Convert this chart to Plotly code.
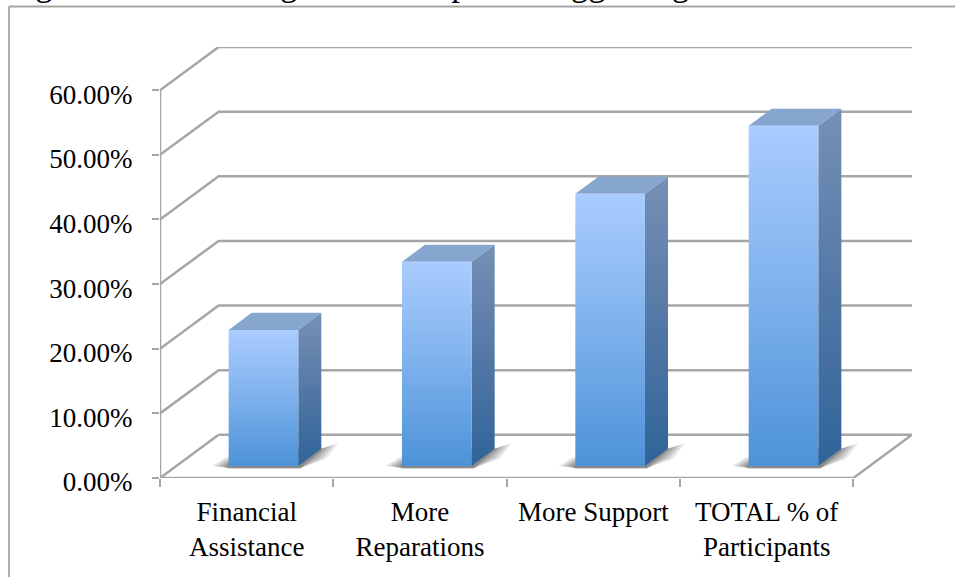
import plotly.graph_objects as go

categories = ["Financial<br>Assistance", "More<br>Reparations", "More Support", "TOTAL % of<br>Participants"]
values = [21.05, 31.58, 42.11, 52.63]
y_ticks = [0, 10, 20, 30, 40, 50, 60]
y_tick_labels = ["0.00%", "10.00%", "20.00%", "30.00%", "40.00%", "50.00%", "60.00%"]
title_text = "Figure 10: Percentage of Participants Suggesting"

GRID = "#A6A6A6"
FONT = "Liberation Serif"
W, H = 955, 577
L, R, T, B = 160, 43, 47, 99
PX = 173.0                # pixels per category
PY = 386.0 / 60           # pixels per percentage point
DX = 58.5 / PX            # chart depth along x (category units)
DY = 43.0 / PY            # chart depth along y (percentage units)
n = len(categories)
ymax_top = 60
xr = n + DX
yr = ymax_top + DY

fig = go.Figure()


def line(xs, ys):
    fig.add_trace(go.Scatter(x=xs, y=ys, mode="lines", hoverinfo="skip", showlegend=False,
                             line=dict(color=GRID, width=2.5), cliponaxis=False))


# walls and floor
for t in y_ticks[1:]:
    line([0, DX, xr], [t, t + DY, t + DY])
line([DX, xr, n, 0], [DY, DY, 0, 0])
line([0, DX], [0, DY])
line([0, 0], [0, ymax_top])

# bars
BW = 69.5 / PX
BDX, BDY = 23.0 / PX, 17.0 / PY
FX, FY = 68.5 / PX, 12.0 / PY


def poly(xs, ys, **kw):
    fig.add_trace(go.Scatter(x=xs, y=ys, mode="lines", fill="toself", hoverinfo="skip",
                             showlegend=False, line=dict(width=0), cliponaxis=False, **kw))


for i, v in enumerate(values):
    x0 = i + FX
    x1 = x0 + BW
    # soft floor shadow, built up in layers
    for grow, alpha in ((1.1, 0.14), (0.85, 0.16), (0.6, 0.18), (0.35, 0.2), (0.15, 0.2)):
        gx, gy = grow * 15.0 / PX, grow * 5.0 / PY
        poly([x0 - gx, x0, x1 + 2 / PX, x1 + BDX * 0.5 + gx, x1 + BDX + gx, x1 + BDX, x0 + BDX,
              x0 - gx * 0.4, x0],
             [FY, FY - 2.2 / PY, FY - 2.2 / PY, FY + BDY * 0.5 - gy * 0.2, FY + BDY + gy, FY + BDY, FY + BDY,
              FY + grow * 6 / PY, FY + grow * 9 / PY],
             fillcolor=f"rgba(70,70,70,{alpha})")
    bottom = FY
    top = FY + v
    # right side face
    poly([x1, x1 + BDX, x1 + BDX, x1], [bottom, bottom + BDY, top + BDY, top],
         fillgradient=dict(type="vertical",
                           colorscale=[[0, "#2F6499"], [0.5, "#5478A6"], [1, "#7690B5"]]))
    # top face
    poly([x0, x1, x1 + BDX, x0 + BDX], [top, top, top + BDY, top + BDY], fillcolor="#86A6D0")
    # front face
    poly([x0, x1, x1, x0], [bottom, bottom, top, top],
         fillgradient=dict(type="vertical",
                           colorscale=[[0, "#4D92D8"], [0.5, "#7DB1EC"], [1, "#AACCFF"]]))

# frame and clipped title above it
fx = (9 - L) / (W - L - R)
fy = (H - B - 6.5) / (H - T - B)
fig.add_shape(type="line", xref="paper", yref="paper", x0=fx, x1=1.1, y0=fy, y1=fy,
              line=dict(color=GRID, width=1.8))
fig.add_shape(type="line", xref="paper", yref="paper", x0=fx, x1=fx, y0=-B / (H - T - B) - 0.01, y1=fy,
              line=dict(color=GRID, width=1.8))
fig.add_annotation(text=title_text, xref="paper", yref="paper", x=(4 - L) / (W - L - R),
                   y=(H - B - 4.5) / (H - T - B), xanchor="left", yanchor="bottom", showarrow=False,
                   font=dict(family=FONT, size=35, color="black"))

fig.update_layout(
    width=W, height=H, autosize=False, margin=dict(l=L, r=R, t=T, b=B, pad=0),
    plot_bgcolor="rgba(0,0,0,0)", paper_bgcolor="white", showlegend=False,
    font=dict(family=FONT, size=27, color="black"),
    xaxis=dict(range=[0, xr], tickmode="array", tickvals=[i + 0.5 for i in range(n)], ticktext=categories,
               ticks="", showgrid=False, zeroline=False, showline=False, ticklabelstandoff=15,
               minor=dict(tickmode="array", tickvals=list(range(n + 1)), ticks="outside", ticklen=8,
                          tickwidth=2, tickcolor=GRID, showgrid=False)),
    yaxis=dict(range=[0, yr], tickmode="array", tickvals=y_ticks, ticktext=y_tick_labels,
               ticks="outside", ticklen=7, tickwidth=2, tickcolor=GRID, ticklabelshift=4,
               showgrid=False, zeroline=False, showline=False, ticklabelstandoff=14),
)
fig.write_html("out.html", config=dict(displayModeBar=False),
               post_script="document.body.style.margin='0';document.body.style.overflow='hidden';")
